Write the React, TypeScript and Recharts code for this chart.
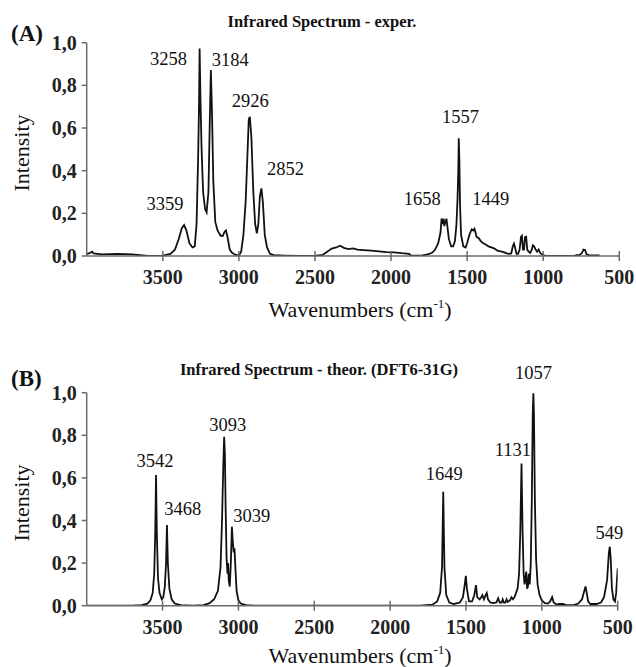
import React from 'react';
import { LineChart, Line, XAxis, YAxis, ReferenceDot } from 'recharts';

const FONT = "'Liberation Serif', 'Times New Roman', serif";
const AXIS = '#6a6a6a';

// ---------- (A) experimental spectrum ----------
const expWave = [
  4000, 3985, 3965, 3955, 3900, 3800, 3700, 3650, 3600, 3500, 3450, 3420, 3395, 3375, 3360, 3345, 3325, 3305,
  3290, 3278, 3268, 3262, 3258, 3252, 3245, 3235, 3222, 3212, 3200, 3192, 3184, 3176, 3168, 3155, 3140, 3120,
  3105, 3093, 3085, 3075, 3060, 3045, 3020, 3000, 2985, 2970, 2955, 2945, 2935, 2928, 2918, 2905, 2893, 2882,
  2872, 2862, 2852, 2842, 2830, 2815, 2795, 2770, 2700, 2600, 2500, 2450, 2420, 2390, 2360, 2335, 2310, 2280,
  2250, 2220, 2180, 2130, 2080, 2030, 1980, 1930, 1880, 1870, 1800, 1760, 1730, 1710, 1690, 1675, 1668, 1662,
  1655, 1650, 1643, 1636, 1630, 1620, 1605, 1592, 1580, 1570, 1563, 1558, 1555, 1551, 1547, 1540, 1525, 1510,
  1500, 1485, 1470, 1460, 1452, 1445, 1438, 1425, 1410, 1395, 1380, 1360, 1340, 1320, 1300, 1280, 1260, 1240,
  1225, 1210, 1200, 1192, 1185, 1175, 1165, 1155, 1146, 1140, 1133, 1126, 1120, 1112, 1105, 1095, 1085, 1075,
  1068, 1060, 1050, 1040, 1030, 1020, 1010, 1000, 980, 800, 780, 760, 745, 735, 725, 715, 700, 640, 630,
];
const expIntensity = [
  0.010, 0.012, 0.020, 0.012, 0.008, 0.010, 0.008, 0.004, 0.000, 0.002, 0.010, 0.030, 0.080, 0.130, 0.145, 0.120, 0.060, 0.040,
  0.045, 0.150, 0.450, 0.700, 0.973, 0.720, 0.500, 0.300, 0.220, 0.205, 0.300, 0.600, 0.872, 0.650, 0.350, 0.160, 0.120, 0.095,
  0.095, 0.115, 0.120, 0.090, 0.030, 0.015, 0.005, 0.002, 0.020, 0.100, 0.260, 0.450, 0.640, 0.653, 0.560, 0.300, 0.150, 0.106,
  0.150, 0.280, 0.317, 0.250, 0.100, 0.040, 0.010, 0.004, 0.002, 0.000, 0.000, 0.005, 0.020, 0.035, 0.040, 0.048, 0.038, 0.032,
  0.036, 0.030, 0.028, 0.025, 0.022, 0.018, 0.017, 0.013, 0.010, 0.002, 0.002, 0.008, 0.015, 0.030, 0.060, 0.110, 0.175, 0.150,
  0.175, 0.140, 0.160, 0.175, 0.140, 0.080, 0.045, 0.045, 0.070, 0.150, 0.270, 0.400, 0.552, 0.450, 0.250, 0.100, 0.045, 0.040,
  0.060, 0.100, 0.125, 0.120, 0.128, 0.110, 0.090, 0.085, 0.070, 0.060, 0.055, 0.045, 0.040, 0.035, 0.025, 0.022, 0.018, 0.012,
  0.010, 0.012, 0.045, 0.058, 0.040, 0.010, 0.010, 0.030, 0.090, 0.095, 0.030, 0.030, 0.088, 0.090, 0.030, 0.020, 0.015, 0.030,
  0.050, 0.045, 0.030, 0.020, 0.030, 0.015, 0.008, 0.004, 0.000, 0.000, 0.004, 0.005, 0.015, 0.030, 0.028, 0.008, 0.004, 0.003, 0.003,
];
const expPeakLabels = ['3258', '3184', '2926', '2852', '3359', '1658', '1557', '1449'];
const expLabelWave = [3463, 3057, 2925, 2694, 3485, 1795, 1543, 1345];
const expLabelY = [0.922, 0.919, 0.728, 0.408, 0.244, 0.266, 0.653, 0.266];

// ---------- (B) theoretical spectrum ----------
const theoWave = [
  4000, 3700, 3640, 3600, 3580, 3565, 3555, 3548, 3543, 3538, 3530, 3520, 3505, 3495, 3485, 3477, 3471, 3465, 3455,
  3440, 3420, 3380, 3300, 3230, 3190, 3160, 3135, 3118, 3108, 3100, 3094, 3089, 3084, 3078, 3072, 3068, 3064, 3057,
  3050, 3043, 3037, 3031, 3026, 3020, 3012, 3000, 2985, 2950, 2900, 1800, 1720, 1690, 1670, 1658, 1650, 1642, 1630,
  1610, 1580, 1540, 1520, 1508, 1501, 1494, 1480, 1460, 1445, 1434, 1426, 1410, 1400, 1392, 1382, 1370, 1363, 1355,
  1340, 1320, 1300, 1288, 1278, 1265, 1258, 1250, 1240, 1232, 1224, 1210, 1200, 1190, 1180, 1170, 1160, 1150, 1142,
  1134, 1127, 1120, 1114, 1108, 1103, 1097, 1092, 1086, 1080, 1073, 1066, 1060, 1056, 1052, 1046, 1038, 1028, 1015,
  1000, 980, 960, 945, 932, 922, 905, 880, 860, 840, 790, 760, 735, 720, 712, 704, 695, 680, 640, 610, 590, 570, 558,
  552, 546, 538, 528, 518, 510, 505, 500,
];
const theoIntensity = [
  0.000, 0.000, 0.003, 0.010, 0.025, 0.060, 0.150, 0.350, 0.614, 0.350, 0.130, 0.060, 0.030, 0.040, 0.090, 0.200, 0.379, 0.200, 0.080,
  0.030, 0.010, 0.003, 0.000, 0.003, 0.012, 0.030, 0.070, 0.180, 0.400, 0.650, 0.793, 0.710, 0.450, 0.220, 0.150, 0.200, 0.120, 0.090,
  0.200, 0.371, 0.300, 0.250, 0.270, 0.180, 0.070, 0.025, 0.010, 0.003, 0.000, 0.000, 0.005, 0.020, 0.060, 0.180, 0.535, 0.180, 0.050,
  0.015, 0.008, 0.015, 0.040, 0.100, 0.140, 0.080, 0.020, 0.020, 0.050, 0.097, 0.040, 0.030, 0.040, 0.050, 0.030, 0.050, 0.060, 0.030,
  0.015, 0.012, 0.015, 0.035, 0.015, 0.015, 0.030, 0.015, 0.015, 0.030, 0.018, 0.025, 0.040, 0.030, 0.040, 0.060, 0.080, 0.150, 0.350,
  0.668, 0.350, 0.150, 0.100, 0.130, 0.160, 0.080, 0.090, 0.150, 0.100, 0.200, 0.500, 0.900, 0.997, 0.900, 0.500, 0.220, 0.100, 0.050,
  0.025, 0.012, 0.010, 0.020, 0.040, 0.015, 0.006, 0.008, 0.008, 0.003, 0.003, 0.010, 0.030, 0.070, 0.090, 0.060, 0.020, 0.008, 0.008, 0.015, 0.040, 0.120, 0.250,
  0.277, 0.220, 0.080, 0.030, 0.020, 0.060, 0.120, 0.175,
];
const theoPeakLabels = ['3542', '3468', '3093', '3039', '1649', '1131', '1057', '549'];
const theoLabelWave = [3550, 3367, 3070, 2912, 1644, 1191, 1055, 555];
const theoLabelY = [0.681, 0.454, 0.848, 0.421, 0.618, 0.731, 1.094, 0.343];

// ---------- axes ----------
const xTicks = [3500, 3000, 2500, 2000, 1500, 1000, 500];
const yTicks = [0, 0.2, 0.4, 0.6, 0.8, 1.0];
const fmtY = (v: number) => v.toFixed(1).replace('.', ',');

const expData = expWave.map((w, i) => ({ w, v: expIntensity[i] }));
const theoData = theoWave.map((w, i) => ({ w, v: theoIntensity[i] }));

const XTick = (props: any) => {
  const { x, y, payload } = props;
  return (
    <g>
      <line x1={x} x2={x} y1={y - 5} y2={y + 5} stroke={AXIS} strokeWidth={1.5} />
      <text x={x} y={y + 21} textAnchor="middle" dominantBaseline="central" style={{ fontFamily: FONT }} fontSize={20} fontWeight="bold" fill="#222">
        {payload.value}
      </text>
    </g>
  );
};

const PeakText = (label: string) => (props: any) => (
  <text x={props.cx} y={props.cy} textAnchor="middle" dominantBaseline="central" style={{ fontFamily: FONT }} fontSize={18.5} fill="#111">
    {label}
  </text>
);

type PanelProps = {
  data: { w: number; v: number }[];
  labels: string[];
  lw: number[];
  ly: number[];
  top: number;
  height: number;
  margin: { top: number; right: number; bottom: number; left: number };
};

const Panel = ({ data, labels, lw, ly, top, height, margin }: PanelProps) => (
  <div style={{ position: 'absolute', left: 0, top }}>
    <LineChart width={636} height={height} data={data} margin={margin} style={{ fontFamily: FONT }}>
      <XAxis
        dataKey="w"
        type="number"
        domain={[500, 4000]}
        reversed
        ticks={xTicks}
        interval={0}
        allowDataOverflow
        height={30}
        stroke={AXIS}
        strokeWidth={1.5}
        tickLine={false}
        tickSize={0}
        tickMargin={0}
        tick={(p: any) => <XTick {...p} />}
      />
      <YAxis
        type="number"
        domain={[0, 1]}
        ticks={yTicks}
        interval={0}
        allowDataOverflow
        width={60}
        stroke={AXIS}
        strokeWidth={1.5}
        tickSize={5}
        tickMargin={5}
        tickFormatter={fmtY}
        tick={{ style: { fontFamily: FONT }, fontSize: 20, fontWeight: 'bold', fill: '#222' }}
      />
      <Line type="linear" dataKey="v" stroke="#111" strokeWidth={1.8} dot={false} isAnimationActive={false} />
      {labels.map((t, i) => (
        <ReferenceDot key={t} x={lw[i]} y={ly[i]} r={3} ifOverflow="visible" shape={PeakText(t)} />
      ))}
    </LineChart>
  </div>
);

const abs = (left: number, top: number, extra: React.CSSProperties = {}): React.CSSProperties => ({
  position: 'absolute',
  left,
  top,
  whiteSpace: 'nowrap',
  lineHeight: 1,
  color: '#111',
  fontFamily: FONT,
  ...extra,
});

const Texts = () => (
  <>
    <div style={abs(322, 22, { transform: 'translate(-50%,-50%)', fontSize: 16.5, fontWeight: 'bold' })}>Infrared Spectrum - exper.</div>
    <div style={abs(11, 33, { transform: 'translateY(-50%)', fontSize: 23, fontWeight: 'bold' })}>(A)</div>
    <div style={abs(360, 309, { transform: 'translate(-50%,-50%)', fontSize: 22 })}>
      Wavenumbers (cm<sup style={{ fontSize: 13 }}>-1</sup>)
    </div>
    <div style={abs(22, 153, { transform: 'translate(-50%,-50%) rotate(-90deg)', fontSize: 22 })}>Intensity</div>

    <div style={abs(319, 370, { transform: 'translate(-50%,-50%)', fontSize: 16.5, fontWeight: 'bold' })}>Infrared Spectrum - theor. (DFT6-31G)</div>
    <div style={abs(11, 378, { transform: 'translateY(-50%)', fontSize: 23, fontWeight: 'bold' })}>(B)</div>
    <div style={abs(360, 655, { transform: 'translate(-50%,-50%)', fontSize: 22 })}>
      Wavenumbers (cm<sup style={{ fontSize: 13 }}>-1</sup>)
    </div>
    <div style={abs(22, 503, { transform: 'translate(-50%,-50%) rotate(-90deg)', fontSize: 22 })}>Intensity</div>
  </>
);

export default function App() {
  return (
    <div style={{ position: 'absolute', left: 0, top: 0, width: 636, height: 667, background: '#fff', fontFamily: FONT }}>
      <Panel
        data={expData}
        labels={expPeakLabels}
        lw={expLabelWave}
        ly={expLabelY}
        top={0}
        height={330}
        margin={{ top: 42.7, right: 16.7, bottom: 44, left: 26.7 }}
      />
      <Panel
        data={theoData}
        labels={theoPeakLabels}
        lw={theoLabelWave}
        ly={theoLabelY}
        top={330}
        height={337}
        margin={{ top: 62.7, right: 18.3, bottom: 31.3, left: 26.7 }}
      />
      <Texts />
    </div>
  );
}
